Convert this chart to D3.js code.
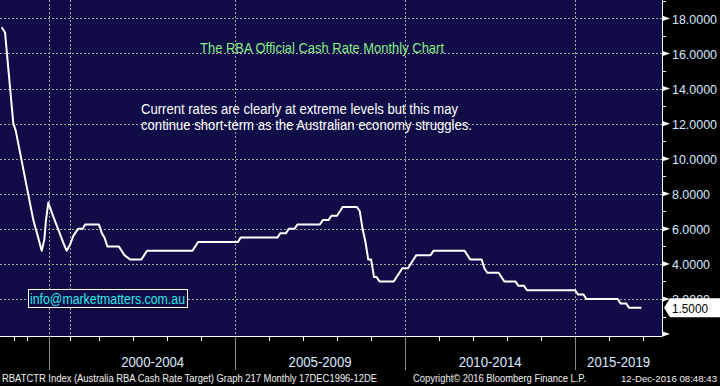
<!DOCTYPE html>
<html>
<head>
<meta charset="utf-8">
<script src="https://cdn.jsdelivr.net/npm/d3@7"></script>
<style>
html, body { margin: 0; padding: 0; background: #000; }
svg { display: block; }
</style>
</head>
<body>
<div class="chart"></div>
<script>
// monthly cash rate, vertices of the plotted line (dates as placed on the chart's axis)
const rateDates = [
  "1998-02-21","1998-03-29","1998-06-26","1998-07-22","1998-12-15","1999-01-27","1999-03-15",
  "1999-04-27","1999-05-25","1999-06-12","1999-07-07","1999-08-29","1999-10-22","1999-12-15",
  "2000-01-20","2000-02-25","2000-03-31","2000-05-21","2000-07-10","2000-08-04",
  "2001-01-01","2001-02-01","2001-03-01","2001-04-01","2001-08-01","2001-09-01","2001-10-01",
  "2001-12-01","2002-04-01","2002-05-01","2002-06-01","2003-10-01","2003-11-01","2003-12-01",
  "2005-02-01","2005-03-01","2006-04-01","2006-05-01","2006-07-01","2006-08-01","2006-10-01",
  "2006-11-01","2007-07-01","2007-08-01","2007-10-01","2007-11-01","2008-01-01","2008-02-01",
  "2008-03-01","2008-08-01","2008-09-01","2008-10-01","2008-11-01","2008-12-01","2009-01-01",
  "2009-02-01","2009-03-01","2009-04-01","2009-09-01","2009-10-01","2009-11-01","2009-12-01",
  "2010-02-01","2010-03-01","2010-04-01","2010-05-01","2010-10-01","2010-11-01","2011-10-01",
  "2011-11-01","2011-12-01","2012-04-01","2012-05-01","2012-06-01","2012-10-01","2012-11-01",
  "2012-12-01","2013-04-01","2013-05-01","2013-07-01","2013-08-01","2015-01-01","2015-02-01",
  "2015-04-01","2015-05-01","2016-04-01","2016-05-01","2016-07-01","2016-08-01","2016-12-12"
];
const rateValues = [
  17.5, 17.2, 12.0, 11.6, 7.65, 6.5, 5.6,
  4.75, 5.4, 6.5, 7.5, 6.7, 5.95, 5.2,
  4.75, 5.1, 5.6, 6.0, 6.0, 6.25,
  6.25, 5.75, 5.5, 5.0, 5.0, 4.75, 4.5,
  4.25, 4.25, 4.5, 4.75, 4.75, 5.0, 5.25,
  5.25, 5.5, 5.5, 5.75, 5.75, 6.0, 6.0,
  6.25, 6.25, 6.5, 6.5, 6.75, 6.75, 7.0,
  7.25, 7.25, 7.0, 6.0, 5.25, 4.25, 4.25,
  3.25, 3.25, 3.0, 3.0, 3.25, 3.5, 3.75,
  3.75, 4.0, 4.25, 4.5, 4.5, 4.75, 4.75,
  4.5, 4.25, 4.25, 3.75, 3.5, 3.5, 3.25,
  3.0, 3.0, 2.75, 2.75, 2.5, 2.5, 2.25,
  2.25, 2.0, 2.0, 1.75, 1.75, 1.5, 1.5
];
const lastValue = 1.5;

const yTicks = [0, 2, 4, 6, 8, 10, 12, 14, 16, 18];
const yMinorTicks = [1, 3, 5, 7, 9, 11, 13, 15, 17, 19];

const earlyTicks = ["1998-07-03", "1998-11-16", "1999-07-11", "2000-02-28"];
const periodStarts = ["1999-07-11", "2005-01-01", "2010-01-01", "2015-01-01"];
const gridDates = ["1999-07-11", "2000-02-28", "2005-01-01", "2010-01-01", "2015-01-01"];
const groupStarts = ["2000-02-28", "2005-01-01", "2010-01-01", "2015-01-01"];
const groupLabels = ["2000-2004", "2005-2009", "2010-2014", "2015-2019"];

const titleText = "The RBA Official Cash Rate Monthly Chart";
const noteLines = ["Current rates are clearly at extreme levels but this may",
                   "continue short-term as the Australian economy struggles."];
const emailText = "info@marketmatters.com.au";
const footerLeft = "RBATCTR Index (Australia RBA Cash Rate Target) Graph 217  Monthly 17DEC1996-12DE";
const footerMid = "Copyright\u00A9 2016 Bloomberg Finance L.P.";
const footerRight = "12-Dec-2016 08:48:43";

const W = 720, H = 386;
const plotW = 662, plotH = 336;
const parse = d3.timeParse("%Y-%m-%d");

const svg = d3.select(".chart").append("svg")
  .attr("width", W).attr("height", H)
  .style("font-family", "'Liberation Sans', Arial, sans-serif");

svg.append("rect").attr("width", W).attr("height", H).attr("fill", "#000");
svg.append("rect").attr("width", plotW).attr("height", plotH).attr("fill", "#0f0c47");

const x = d3.scaleTime()
  .domain([parse("1998-02-03"), parse("2017-07-21")])
  .range([0, plotW]);
const y = d3.scaleLinear().domain([-0.11, 19.05]).range([plotH, 0]);

const gridColor = "#a9a79a";

// horizontal grid
svg.append("g").selectAll("line")
  .data(yTicks.filter(d => d > 0))
  .join("line")
  .attr("x1", 0).attr("x2", plotW)
  .attr("y1", d => Math.round(y(d)) + 0.5).attr("y2", d => Math.round(y(d)) + 0.5)
  .attr("stroke", gridColor).attr("stroke-dasharray", "2,2");

// vertical grid
svg.append("g").selectAll("line")
  .data(gridDates.map(parse))
  .join("line")
  .attr("x1", d => Math.round(x(d)) + 0.5).attr("x2", d => Math.round(x(d)) + 0.5)
  .attr("y1", 0).attr("y2", plotH)
  .attr("stroke", gridColor).attr("stroke-dasharray", "2,2");

// bottom axis
const yearTicks = earlyTicks.map(parse)
  .concat(d3.timeYear.range(parse("2001-01-01"), parse("2017-06-01")));
const bottom = svg.append("g");
bottom.append("line")
  .attr("x1", 0).attr("x2", plotW).attr("y1", plotH + 0.5).attr("y2", plotH + 0.5)
  .attr("stroke", "#fff");
bottom.selectAll(".tk")
  .data(yearTicks)
  .join("line").attr("class", "tk")
  .attr("x1", d => Math.round(x(d)) + 0.5).attr("x2", d => Math.round(x(d)) + 0.5)
  .attr("y1", plotH).attr("y2", plotH + 5)
  .attr("stroke", "#fff");
bottom.selectAll(".sep")
  .data(periodStarts.map(parse))
  .join("line").attr("class", "sep")
  .attr("x1", d => Math.round(x(d)) + 0.5).attr("x2", d => Math.round(x(d)) + 0.5)
  .attr("y1", plotH + 1).attr("y2", plotH + 34)
  .attr("stroke", "#8c8c8c");
bottom.selectAll(".grp")
  .data(groupLabels)
  .join("text").attr("class", "grp")
  .attr("x", (d, i) => {
    const a = x(parse(groupStarts[i]));
    const b = i < groupStarts.length - 1 ? x(parse(groupStarts[i + 1])) : plotW;
    return (a + b) / 2;
  })
  .attr("y", 367)
  .attr("text-anchor", "middle")
  .attr("font-size", 14)
  .attr("fill", "#dbe9ff")
  .attr("textLength", 63).attr("lengthAdjust", "spacingAndGlyphs")
  .text(d => d);

// right axis
const right = svg.append("g");
right.append("line")
  .attr("x1", plotW + 0.5).attr("x2", plotW + 0.5).attr("y1", 0).attr("y2", plotH)
  .attr("stroke", "#fff");
right.selectAll(".minor")
  .data(yMinorTicks)
  .join("line").attr("class", "minor")
  .attr("x1", plotW).attr("x2", plotW + 4)
  .attr("y1", d => Math.round(y(d)) + 0.5).attr("y2", d => Math.round(y(d)) + 0.5)
  .attr("stroke", "#fff");
right.selectAll(".arrow")
  .data(yTicks)
  .join("path").attr("class", "arrow")
  .attr("d", d => `M${plotW},${y(d) - 2.8}L${plotW + 8},${y(d)}L${plotW},${y(d) + 2.8}Z`)
  .attr("fill", "#fff");
right.selectAll(".lab")
  .data(yTicks.filter(d => d > 0))
  .join("text").attr("class", "lab")
  .attr("x", 672).attr("y", d => y(d) + 5.5)
  .attr("font-size", 12.5)
  .attr("fill", "#d4e8ff")
  .attr("textLength", d => d >= 10 ? 45 : 38).attr("lengthAdjust", "spacingAndGlyphs")
  .text(d => d.toFixed(4));

// last value box
const yl = y(lastValue);
right.append("path")
  .attr("d", `M${plotW + 2},${yl}L${plotW + 8},${yl - 9.5}L${W},${yl - 9.5}L${W},${yl + 9.5}L${plotW + 8},${yl + 9.5}Z`)
  .attr("fill", "#fff");
right.append("text")
  .attr("x", 672).attr("y", yl + 5.5)
  .attr("font-size", 12.5).attr("fill", "#000")
  .attr("textLength", 36).attr("lengthAdjust", "spacingAndGlyphs")
  .text(lastValue.toFixed(4));

// rate line
const line = d3.line()
  .x((d, i) => x(parse(rateDates[i])))
  .y(d => y(d));
svg.append("path")
  .datum(rateValues)
  .attr("d", line)
  .attr("fill", "none")
  .attr("stroke", "#fff")
  .attr("stroke-width", 2)
  .attr("stroke-linejoin", "round");

// annotations
svg.append("text")
  .attr("x", 200).attr("y", 53)
  .attr("font-size", 14).attr("fill", "#86ee86")
  .attr("textLength", 244).attr("lengthAdjust", "spacingAndGlyphs")
  .text(titleText);

svg.append("g").selectAll("text")
  .data(noteLines)
  .join("text")
  .attr("x", 141).attr("y", (d, i) => 113.5 + i * 16.5)
  .attr("font-size", 14).attr("fill", "#fff")
  .attr("textLength", (d, i) => i === 0 ? 317 : 331).attr("lengthAdjust", "spacingAndGlyphs")
  .text(d => d);

svg.append("rect")
  .attr("x", 28.5).attr("y", 289.5).attr("width", 159).attr("height", 18)
  .attr("fill", "#0f0c47").attr("stroke", "#fff");
svg.append("text")
  .attr("x", 30).attr("y", 303.5)
  .attr("font-size", 14).attr("fill", "#2ee6e6")
  .attr("textLength", 155).attr("lengthAdjust", "spacingAndGlyphs")
  .text(emailText);

// footer
const foot = svg.append("g").attr("font-size", 10).attr("fill", "#f0f0f0");
foot.append("text").attr("x", 2).attr("y", 382)
  .attr("textLength", 375).attr("lengthAdjust", "spacingAndGlyphs").text(footerLeft);
foot.append("text").attr("x", 413).attr("y", 382)
  .attr("textLength", 173).attr("lengthAdjust", "spacingAndGlyphs").text(footerMid);
foot.append("text").attr("x", 621).attr("y", 382).attr("font-size", 9.5)
  .attr("textLength", 96).attr("lengthAdjust", "spacingAndGlyphs").text(footerRight);
</script>
</body>
</html>
